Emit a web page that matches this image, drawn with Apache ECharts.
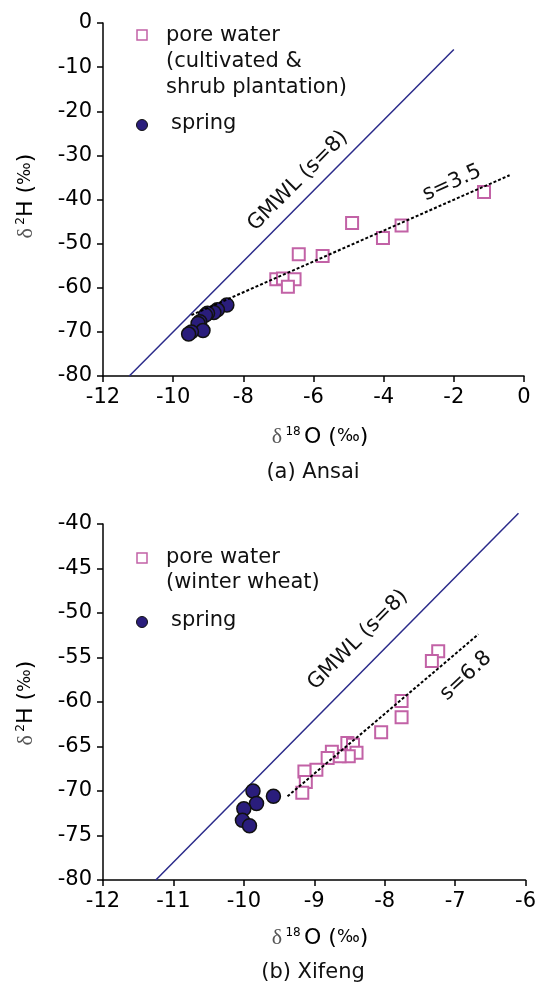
<!DOCTYPE html>
<html>
<head>
<meta charset="utf-8">
<script src="https://cdn.jsdelivr.net/npm/echarts@6/dist/echarts.min.js"></script>
<style>
  html, body { margin: 0; padding: 0; background: #fff; }
  #chart { width: 539px; height: 985px; }
</style>
</head>
<body>
<div id="chart"></div>
<script>
// (a) Ansai
const ansaiPore = [
  [-1.14, -38.3], [-4.9, -45.3], [-3.49, -45.9], [-4.02, -48.7],
  [-6.42, -52.4], [-5.74, -52.8], [-7.06, -58.1], [-6.87, -57.9],
  [-6.54, -58.1], [-6.73, -59.8]
];
const ansaiSpring = [
  [-8.47, -63.9], [-8.74, -65.0], [-8.84, -65.6], [-9.02, -65.8],
  [-9.08, -66.2], [-9.24, -67.7], [-9.29, -68.1], [-9.15, -69.7],
  [-9.48, -70.0], [-9.56, -70.5]
];
const ansaiGmwl = [[-11.25, -80], [-2, -6]];
const ansaiFit = [[-9.48, -66.2], [-0.41, -34.5]];

// (b) Xifeng
const xifengPore = [
  [-7.24, -54.3], [-7.33, -55.4], [-7.76, -59.9], [-7.76, -61.7],
  [-8.05, -63.4], [-8.53, -64.6], [-8.45, -64.8], [-8.4, -65.7],
  [-8.51, -66.1], [-8.64, -66.1], [-8.75, -65.6], [-8.81, -66.3],
  [-8.97, -67.6], [-9.14, -67.8], [-9.12, -69.0], [-9.17, -70.2]
];
const xifengSpring = [
  [-9.87, -70.0], [-9.58, -70.6], [-9.82, -71.4], [-10.0, -72.0],
  [-10.02, -73.3], [-9.92, -73.9]
];
const xifengGmwl = [[-11.25, -80], [-6.1, -38.8]];
const xifengFit = [[-9.38, -70.6], [-6.67, -52.4]];

const poreColor = "#c262a6";
const springColor = "#2a1d7c";
const lineColor = "#2a2a8a";
const font = "DejaVu Sans, sans-serif";

function axisBase() {
  return {
    axisLine: { show: true, onZero: false, lineStyle: { color: "#000", width: 1.5 } },
    axisTick: { show: true, length: 6, lineStyle: { color: "#000", width: 1.5 } },
    axisLabel: { color: "#000", fontSize: 21, fontFamily: font, margin: 11 },
    splitLine: { show: false },
  };
}

function poreSeries(data, i) {
  return {
    type: "scatter", xAxisIndex: i, yAxisIndex: i, data: data,
    symbol: "rect", symbolSize: 12,
    itemStyle: { color: "#fff", borderColor: poreColor, borderWidth: 2, opacity: 1 },
    z: 3,
  };
}
function springSeries(data, i) {
  return {
    type: "scatter", xAxisIndex: i, yAxisIndex: i, data: data,
    symbol: "circle", symbolSize: 14,
    itemStyle: { color: springColor, borderColor: "#111", borderWidth: 1.5, opacity: 1 },
    z: 4,
  };
}
function gmwlSeries(data, i) {
  return {
    type: "line", xAxisIndex: i, yAxisIndex: i, data: data,
    showSymbol: false, clip: false,
    lineStyle: { color: lineColor, width: 1.5 },
    z: 2,
  };
}
function fitSeries(data, i) {
  return {
    type: "line", xAxisIndex: i, yAxisIndex: i, data: data,
    showSymbol: false,
    lineStyle: { color: "#000", width: 2, type: [3, 2] },
    z: 5,
  };
}

const nameRich = {
  d: { fontFamily: "Liberation Serif, serif", fontSize: 22, fill: "#555" },
  s: { fontFamily: font, fontSize: 12, fill: "#000", verticalAlign: "top", padding: [0, 0, 9, 0] },
  o: { fontFamily: font, fontSize: 22, fill: "#000" },
  p: { fontFamily: font, fontSize: 17, fill: "#000" },
};
function xName(y) {
  return {
    type: "text", x: 320, y: y,
    style: { text: "{d|δ} {s|18} {o|O (}{p|‰}{o|)}", align: "center", verticalAlign: "middle", rich: nameRich },
  };
}
function yName(cy) {
  return {
    type: "text", x: 26, y: cy, rotation: Math.PI / 2,
    style: { text: "{d|δ} {s|2}{o|H (}{p|‰}{o|)}", align: "center", verticalAlign: "middle", rich: nameRich },
  };
}
function txt(x, y, text) {
  return {
    type: "text", x: x, y: y,
    style: { text: text, fontFamily: font, fontSize: 21, fill: "#111", align: "left", verticalAlign: "middle" },
  };
}
function ctxt(x, y, text, rot) {
  return {
    type: "text", x: x, y: y, rotation: rot || 0,
    style: { text: text, fontFamily: font, fontSize: 21, fill: "#111", align: "center", verticalAlign: "middle" },
  };
}

const option = {
  backgroundColor: "#fff",
  animation: false,
  grid: [
    { left: 103, top: 23, width: 421, height: 353 },
    { left: 103, top: 524, width: 423, height: 356 },
  ],
  xAxis: [
    Object.assign(axisBase(), { gridIndex: 0, type: "value", min: -12, max: 0, interval: 2 }),
    Object.assign(axisBase(), { gridIndex: 1, type: "value", min: -12, max: -6, interval: 1 }),
  ],
  yAxis: [
    Object.assign(axisBase(), { gridIndex: 0, type: "value", min: -80, max: 0, interval: 10 }),
    Object.assign(axisBase(), { gridIndex: 1, type: "value", min: -80, max: -40, interval: 5 }),
  ],
  series: [
    gmwlSeries(ansaiGmwl, 0),
    fitSeries(ansaiFit, 0),
    poreSeries(ansaiPore, 0),
    springSeries(ansaiSpring, 0),
    gmwlSeries(xifengGmwl, 1),
    fitSeries(xifengFit, 1),
    poreSeries(xifengPore, 1),
    springSeries(xifengSpring, 1),
  ],
  graphic: [
    // top legend
    { type: "rect", shape: { x: 137, y: 30, width: 10, height: 10 }, style: { fill: "#fff", stroke: poreColor, lineWidth: 1.5 } },
    txt(166, 36, "pore water"),
    txt(166, 62, "(cultivated &"),
    txt(166, 88, "shrub plantation)"),
    { type: "circle", shape: { cx: 142, cy: 125, r: 5.5 }, style: { fill: springColor, stroke: "#111", lineWidth: 1 } },
    txt(171, 124, "spring"),
    ctxt(298, 181, "GMWL (s=8)", Math.PI / 4),
    ctxt(452, 183, "s=3.5", 0.42),
    xName(437),
    yName(196),
    ctxt(313, 473, "(a) Ansai"),
    // bottom legend
    { type: "rect", shape: { x: 137, y: 553, width: 10, height: 10 }, style: { fill: "#fff", stroke: poreColor, lineWidth: 1.5 } },
    txt(166, 558, "pore water"),
    txt(166, 583, "(winter wheat)"),
    { type: "circle", shape: { cx: 142, cy: 622, r: 5.5 }, style: { fill: springColor, stroke: "#111", lineWidth: 1 } },
    txt(171, 621, "spring"),
    ctxt(358, 640, "GMWL (s=8)", Math.PI / 4),
    ctxt(466, 676, "s=6.8", 0.75),
    xName(938),
    yName(703),
    ctxt(313, 973, "(b) Xifeng"),
  ],
};

const chart = echarts.init(document.getElementById("chart"));
chart.setOption(option);
window.addEventListener("resize", () => chart.resize());
</script>
</body>
</html>
